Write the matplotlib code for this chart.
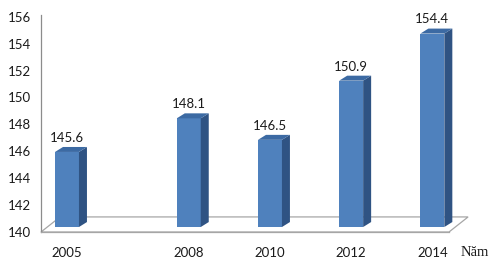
import matplotlib
matplotlib.use('Agg')
import matplotlib.pyplot as plt
from matplotlib.patches import Polygon

years = [2005, 2008, 2010, 2012, 2014]
values = [145.6, 148.1, 146.5, 150.9, 154.4]
yticks = [140, 142, 144, 146, 148, 150, 152, 154, 156]
xlabel = 'Năm'

plt.rcParams['font.family'] = ['Lato', 'DejaVu Sans']

fig = plt.figure(figsize=(5, 2.62), dpi=100)
# axes box: left spine at px 41, bottom at px 232, top px 15, right px 449
ax = fig.add_axes([41 / 500, 30 / 262, 408 / 500, 217 / 262])
ax.set_xlim(2004.36, 2014.41)
ax.set_ylim(140, 156.13)

w = 0.59      # front face width (years)
dx = 0.197    # depth offset in x
dy = 0.37     # depth offset in y
base = 140.37
front_c = '#4F81BD'
side_c = '#2F5383'
top_c = '#3C6AA3'

# floor of the 3d box
fdx, fdy = 0.47, 1.12
x0, x1 = ax.get_xlim()
floor = Polygon([(x0, 140), (x1, 140), (x1 + fdx, 140 + fdy), (x0 + fdx, 140 + fdy)],
                closed=True, fill=False, edgecolor='#A6A6A6', lw=0.9, clip_on=False, zorder=1)
ax.add_patch(floor)

ax.bar(years, [v + 0.35 - base for v in values], bottom=base, width=w,
       color=front_c, edgecolor='none', zorder=3, clip_on=False)
for x, v in zip(years, values):
    top = v + 0.35
    r = x + w / 2
    l = x - w / 2
    ax.add_patch(Polygon([(r, base), (r + dx, base + dy), (r + dx, top + dy), (r, top)],
                         closed=True, color=side_c, lw=0, zorder=3, clip_on=False))
    ax.add_patch(Polygon([(l, top), (r, top), (r + dx, top + dy), (l + dx, top + dy)],
                         closed=True, color=top_c, lw=0, zorder=3, clip_on=False))
    ax.text(x, v + 1.4, f'{v:.1f}', ha='center', va='center', fontsize=9.5,
            color='#1a1a1a', zorder=4)

for s in ['top', 'right']:
    ax.spines[s].set_visible(False)
ax.spines['left'].set_color('#8C8C8C')
ax.spines['bottom'].set_color('#A6A6A6')
ax.spines['left'].set_linewidth(0.9)
ax.spines['bottom'].set_linewidth(0.9)

ax.set_yticks(yticks)
ax.set_yticklabels([str(t) for t in yticks])
ax.set_xticks(years)
ax.set_xticklabels([str(y) for y in years])
ax.tick_params(axis='y', length=0, pad=7, labelsize=9.5, colors='#1a1a1a')
ax.tick_params(axis='x', length=0, pad=11, labelsize=9.5, colors='#1a1a1a')
ax.patch.set_alpha(0)

ax.text(2014.70, 138.5, xlabel, ha='left', va='center', fontsize=10.5,
        family=['Liberation Serif'], color='#1a1a1a', clip_on=False)

fig.savefig('out.png', dpi=100)
